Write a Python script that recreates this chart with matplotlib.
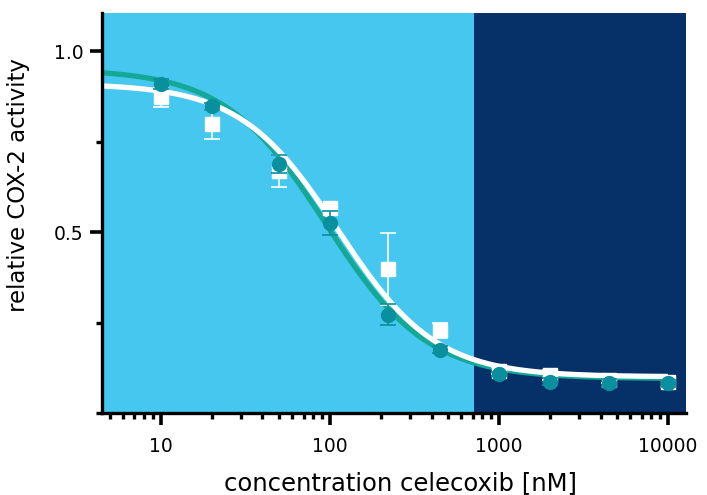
import numpy as np
import matplotlib
matplotlib.use("Agg")
import matplotlib.pyplot as plt
from matplotlib.ticker import FixedLocator, NullFormatter, FixedFormatter

# ---- data ----
conc = [10, 20, 50, 100, 220, 450, 1000, 2000, 4500, 10000]
teal_vals = [0.908, 0.847, 0.689, 0.525, 0.272, 0.175, 0.108, 0.086, 0.083, 0.082]
teal_err = [0.014, 0.010, 0.025, 0.033, 0.028, 0.010, 0.005, 0.010, 0.010, 0.010]
white_vals = [0.872, 0.797, 0.669, 0.567, 0.397, 0.228, 0.117, 0.105, 0.092, 0.086]
white_err = [0.026, 0.039, 0.044, 0.010, 0.100, 0.021, 0.010, 0.015, 0.010, 0.015]

# four-parameter logistic fit parameters: top, bottom, IC50, hill
teal_fit = [0.95, 0.095, 95.0, 1.45]
white_fit = [0.91, 0.100, 112.0, 1.50]

x_ticks = [10, 100, 1000, 10000]
x_tick_labels = ["10", "100", "1000", "10000"]
y_ticks = [0.5, 1.0]
y_tick_labels = ["0.5", "1.0"]
y_minor = [0.0, 0.25, 0.75]

xlim = (4.5, 12800)
ylim = (0.0, 1.105)
region_split = 710

LIGHT = "#45C7F0"
NAVY = "#053068"
TEAL_LINE = "#14A896"
TEAL_MARK = "#0A8F9E"

plt.rcParams['font.family'] = ['DejaVu Sans']

fig = plt.figure(figsize=(7.07, 4.95), dpi=100)
ax = fig.add_axes([102/707, 1-413/495, (686-102)/707, (413-13)/495])
ax.set_xscale('log')
ax.set_xlim(*xlim)
ax.set_ylim(*ylim)

ax.axvspan(xlim[0], region_split, color=LIGHT, zorder=0, lw=0)
ax.axvspan(region_split, xlim[1], color=NAVY, zorder=0, lw=0)

def logistic(x, p):
    top, bottom, c, h = p
    return bottom + (top - bottom) / (1 + (x / c) ** h)

xs = np.logspace(np.log10(xlim[0]), np.log10(10000), 400)
ax.plot(xs, logistic(xs, teal_fit), color=TEAL_LINE, lw=3.8, zorder=2, solid_capstyle='butt')
ax.plot(xs, logistic(xs, white_fit), color="white", lw=3.8, zorder=3, solid_capstyle='butt')

ax.errorbar(conc, white_vals, yerr=white_err, fmt='s', color='white', ms=9.5,
            ecolor='white', elinewidth=1.2, capsize=6, capthick=1.2, zorder=4)
ax.errorbar(conc, teal_vals, yerr=teal_err, fmt='o', color=TEAL_MARK, ms=10,
            ecolor=TEAL_MARK, elinewidth=1.2, capsize=6, capthick=1.2, zorder=5)

for s in ['top', 'right']:
    ax.spines[s].set_visible(False)
for s in ['left', 'bottom']:
    ax.spines[s].set_linewidth(2.4)
    ax.spines[s].set_zorder(7)

ax.xaxis.set_major_locator(FixedLocator(x_ticks))
ax.xaxis.set_major_formatter(FixedFormatter(x_tick_labels))
minor_x = [m * 10 ** d for d in range(0, 5) for m in range(2, 10)]
minor_x = [v for v in minor_x if xlim[0] <= v <= xlim[1]]
ax.xaxis.set_minor_locator(FixedLocator(minor_x))
ax.xaxis.set_minor_formatter(NullFormatter())

ax.yaxis.set_major_locator(FixedLocator(y_ticks))
ax.yaxis.set_major_formatter(FixedFormatter(y_tick_labels))
ax.yaxis.set_minor_locator(FixedLocator(y_minor))

ax.tick_params(axis='both', which='major', length=8.5, width=2.6, labelsize=13.5, color='black')
ax.tick_params(axis='x', which='major', pad=9)
ax.tick_params(axis='y', which='major', pad=5)
ax.tick_params(axis='both', which='minor', length=4.5, width=2.4, color='black')

fig.text(400/707, 1-490/495, "concentration celecoxib [nM]", fontsize=17.5,
         ha='center', va='baseline')
ax.set_ylabel("relative COX-2 activity", fontsize=16.5)
ax.yaxis.set_label_coords(-0.123, 0.57)

fig.savefig("out.png", dpi=100)
